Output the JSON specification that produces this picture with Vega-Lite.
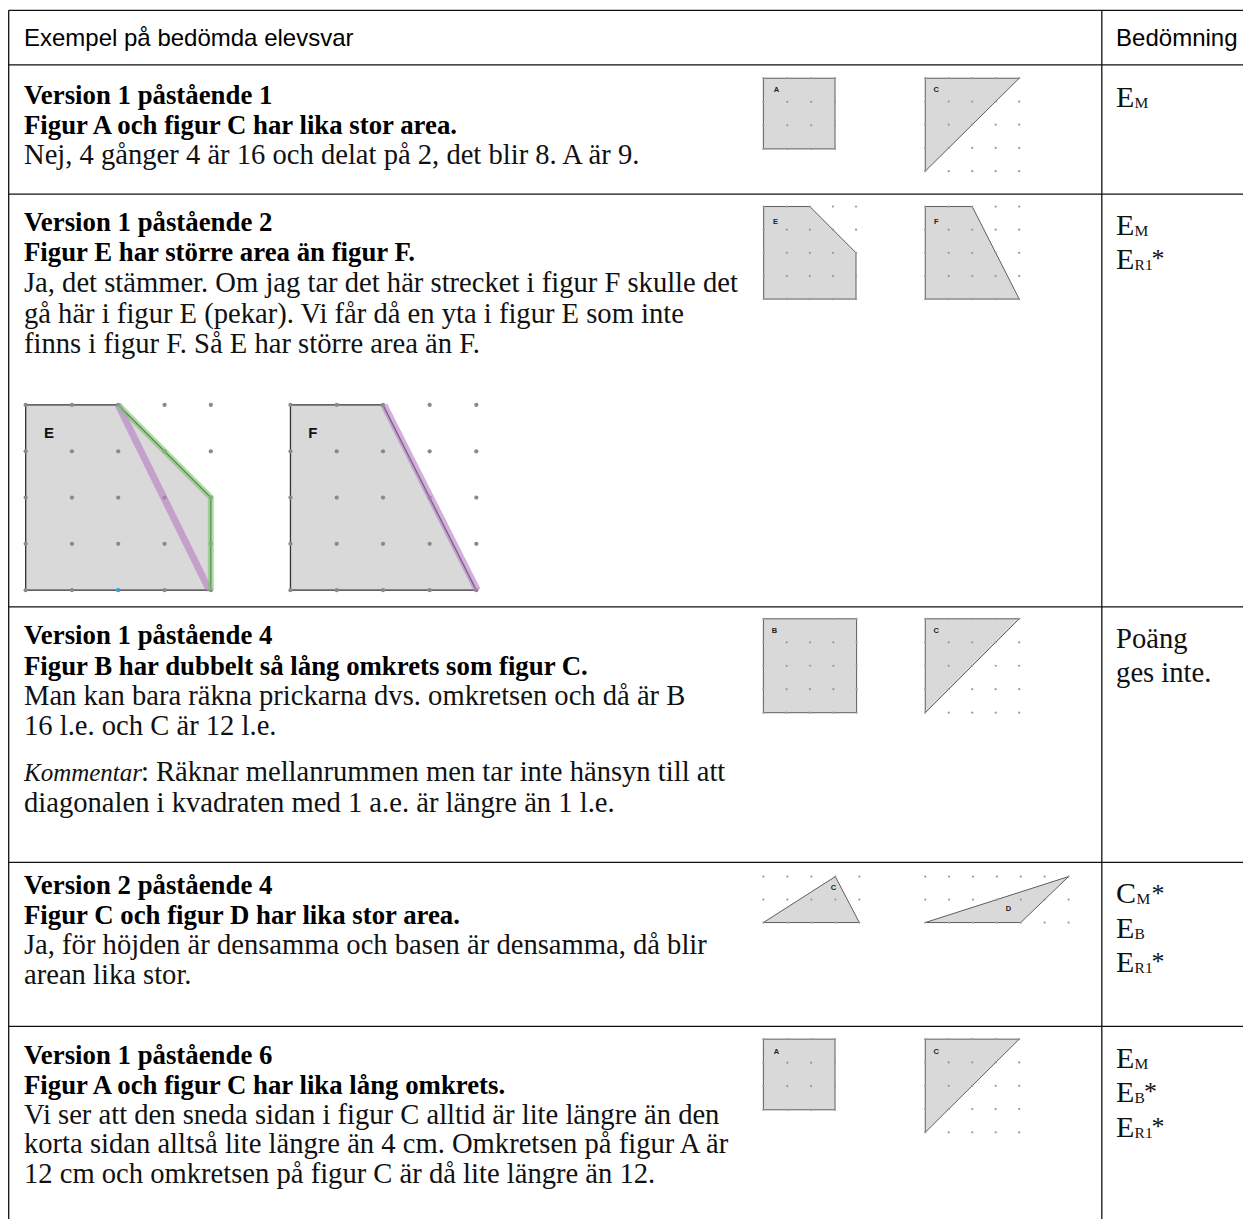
{
  "$schema": "https://vega.github.io/schema/vega-lite/v6.json",
  "width": 1244,
  "height": 1220,
  "autosize": {"type": "fit", "contains": "padding"},
  "padding": 0,
  "background": "white",
  "config": {"view": {"stroke": null}},
  "datasets": {
    "rules": [
      {"x": 8.7, "x2": 1244, "y": 10.3, "y2": 10.3},
      {"x": 8.7, "x2": 1244, "y": 65, "y2": 65},
      {"x": 8.7, "x2": 1244, "y": 194.3, "y2": 194.3},
      {"x": 8.7, "x2": 1244, "y": 607.3, "y2": 607.3},
      {"x": 8.7, "x2": 1244, "y": 863, "y2": 863},
      {"x": 8.7, "x2": 1244, "y": 1027.3, "y2": 1027.3},
      {"x": 8.7, "x2": 8.7, "y": 10.3, "y2": 1220},
      {"x": 1102.7, "x2": 1102.7, "y": 10.3, "y2": 1220}
    ],
    "polys": [
      {"id": "r1A", "k": "s", "o": 1, "x": 764, "y": 78.3}, {"id": "r1A", "k": "s", "o": 2, "x": 835.7, "y": 78.3}, {"id": "r1A", "k": "s", "o": 3, "x": 835.7, "y": 149}, {"id": "r1A", "k": "s", "o": 4, "x": 764, "y": 149},
      {"id": "r1C", "k": "s", "o": 1, "x": 926, "y": 78.3}, {"id": "r1C", "k": "s", "o": 2, "x": 1020, "y": 78.3}, {"id": "r1C", "k": "s", "o": 3, "x": 926, "y": 171.3},
      {"id": "r2E", "k": "s", "o": 1, "x": 764.3, "y": 206.7}, {"id": "r2E", "k": "s", "o": 2, "x": 810.5, "y": 206.7}, {"id": "r2E", "k": "s", "o": 3, "x": 856.7, "y": 253}, {"id": "r2E", "k": "s", "o": 4, "x": 856.7, "y": 299.3}, {"id": "r2E", "k": "s", "o": 5, "x": 764.3, "y": 299.3},
      {"id": "r2F", "k": "s", "o": 1, "x": 926, "y": 206.7}, {"id": "r2F", "k": "s", "o": 2, "x": 973, "y": 206.7}, {"id": "r2F", "k": "s", "o": 3, "x": 1020, "y": 299.3}, {"id": "r2F", "k": "s", "o": 4, "x": 926, "y": 299.3},
      {"id": "r3B", "k": "s", "o": 1, "x": 764, "y": 619.3}, {"id": "r3B", "k": "s", "o": 2, "x": 857.3, "y": 619.3}, {"id": "r3B", "k": "s", "o": 3, "x": 857.3, "y": 713.3}, {"id": "r3B", "k": "s", "o": 4, "x": 764, "y": 713.3},
      {"id": "r3C", "k": "s", "o": 1, "x": 926, "y": 619.3}, {"id": "r3C", "k": "s", "o": 2, "x": 1020, "y": 619.3}, {"id": "r3C", "k": "s", "o": 3, "x": 926, "y": 713.3},
      {"id": "r4C", "k": "s", "o": 1, "x": 764, "y": 923.3}, {"id": "r4C", "k": "s", "o": 2, "x": 836, "y": 877.3}, {"id": "r4C", "k": "s", "o": 3, "x": 860, "y": 923.3},
      {"id": "r4D", "k": "s", "o": 1, "x": 926, "y": 923.3}, {"id": "r4D", "k": "s", "o": 2, "x": 1069.4, "y": 877.3}, {"id": "r4D", "k": "s", "o": 3, "x": 1021.6, "y": 923.3},
      {"id": "r5A", "k": "s", "o": 1, "x": 764, "y": 1040}, {"id": "r5A", "k": "s", "o": 2, "x": 835.7, "y": 1040}, {"id": "r5A", "k": "s", "o": 3, "x": 835.7, "y": 1110.7}, {"id": "r5A", "k": "s", "o": 4, "x": 764, "y": 1110.7},
      {"id": "r5C", "k": "s", "o": 1, "x": 926, "y": 1040}, {"id": "r5C", "k": "s", "o": 2, "x": 1020, "y": 1040}, {"id": "r5C", "k": "s", "o": 3, "x": 926, "y": 1133.3},
      {"id": "bE", "k": "b", "o": 1, "x": 25.7, "y": 405.3}, {"id": "bE", "k": "b", "o": 2, "x": 118.3, "y": 405.3}, {"id": "bE", "k": "b", "o": 3, "x": 211, "y": 498}, {"id": "bE", "k": "b", "o": 4, "x": 211, "y": 590.7}, {"id": "bE", "k": "b", "o": 5, "x": 25.7, "y": 590.7},
      {"id": "bF", "k": "b", "o": 1, "x": 290.7, "y": 405.3}, {"id": "bF", "k": "b", "o": 2, "x": 383.3, "y": 405.3}, {"id": "bF", "k": "b", "o": 3, "x": 476.7, "y": 590.7}, {"id": "bF", "k": "b", "o": 4, "x": 290.7, "y": 590.7}
    ],
    "bands": [
      {"id": "pE", "c": "p", "o": 1, "x": 118.3, "y": 405.3}, {"id": "pE", "c": "p", "o": 2, "x": 209.5, "y": 590.7},
      {"id": "pF", "c": "p", "o": 1, "x": 384.3, "y": 405.3}, {"id": "pF", "c": "p", "o": 2, "x": 477.7, "y": 590.7},
      {"id": "gE", "c": "g", "o": 1, "x": 118.3, "y": 405.3}, {"id": "gE", "c": "g", "o": 2, "x": 211, "y": 498}, {"id": "gE", "c": "g", "o": 3, "x": 211, "y": 590.7}
    ],
    "dots": [
      {"f": "s", "x": 764, "y": 78.3}, {"f": "s", "x": 787.9, "y": 78.3}, {"f": "s", "x": 811.8, "y": 78.3}, {"f": "s", "x": 835.7, "y": 78.3},
      {"f": "s", "x": 764, "y": 101.9}, {"f": "s", "x": 787.9, "y": 101.9}, {"f": "s", "x": 811.8, "y": 101.9}, {"f": "s", "x": 835.7, "y": 101.9},
      {"f": "s", "x": 764, "y": 125.4}, {"f": "s", "x": 787.9, "y": 125.4}, {"f": "s", "x": 811.8, "y": 125.4}, {"f": "s", "x": 835.7, "y": 125.4},
      {"f": "s", "x": 764, "y": 149}, {"f": "s", "x": 787.9, "y": 149}, {"f": "s", "x": 811.8, "y": 149}, {"f": "s", "x": 835.7, "y": 149},

      {"f": "s", "x": 926, "y": 78.3}, {"f": "s", "x": 949.5, "y": 78.3}, {"f": "s", "x": 973, "y": 78.3}, {"f": "s", "x": 996.5, "y": 78.3}, {"f": "s", "x": 1020, "y": 78.3},
      {"f": "s", "x": 926, "y": 101.6}, {"f": "s", "x": 949.5, "y": 101.6}, {"f": "s", "x": 973, "y": 101.6}, {"f": "s", "x": 996.5, "y": 101.6}, {"f": "s", "x": 1020, "y": 101.6},
      {"f": "s", "x": 926, "y": 124.8}, {"f": "s", "x": 949.5, "y": 124.8}, {"f": "s", "x": 973, "y": 124.8}, {"f": "s", "x": 996.5, "y": 124.8}, {"f": "s", "x": 1020, "y": 124.8},
      {"f": "s", "x": 926, "y": 148.1}, {"f": "s", "x": 949.5, "y": 148.1}, {"f": "s", "x": 973, "y": 148.1}, {"f": "s", "x": 996.5, "y": 148.1}, {"f": "s", "x": 1020, "y": 148.1},
      {"f": "s", "x": 926, "y": 171.3}, {"f": "s", "x": 949.5, "y": 171.3}, {"f": "s", "x": 973, "y": 171.3}, {"f": "s", "x": 996.5, "y": 171.3}, {"f": "s", "x": 1020, "y": 171.3},

      {"f": "s", "x": 764.3, "y": 206.7}, {"f": "s", "x": 787.4, "y": 206.7}, {"f": "s", "x": 810.5, "y": 206.7}, {"f": "s", "x": 833.6, "y": 206.7}, {"f": "s", "x": 856.7, "y": 206.7},
      {"f": "s", "x": 764.3, "y": 229.9}, {"f": "s", "x": 787.4, "y": 229.9}, {"f": "s", "x": 810.5, "y": 229.9}, {"f": "s", "x": 833.6, "y": 229.9}, {"f": "s", "x": 856.7, "y": 229.9},
      {"f": "s", "x": 764.3, "y": 253}, {"f": "s", "x": 787.4, "y": 253}, {"f": "s", "x": 810.5, "y": 253}, {"f": "s", "x": 833.6, "y": 253}, {"f": "s", "x": 856.7, "y": 253},
      {"f": "s", "x": 764.3, "y": 276.2}, {"f": "s", "x": 787.4, "y": 276.2}, {"f": "s", "x": 810.5, "y": 276.2}, {"f": "s", "x": 833.6, "y": 276.2}, {"f": "s", "x": 856.7, "y": 276.2},
      {"f": "s", "x": 764.3, "y": 299.3}, {"f": "s", "x": 787.4, "y": 299.3}, {"f": "s", "x": 810.5, "y": 299.3}, {"f": "s", "x": 833.6, "y": 299.3}, {"f": "s", "x": 856.7, "y": 299.3},

      {"f": "s", "x": 926, "y": 206.7}, {"f": "s", "x": 949.5, "y": 206.7}, {"f": "s", "x": 973, "y": 206.7}, {"f": "s", "x": 996.5, "y": 206.7}, {"f": "s", "x": 1020, "y": 206.7},
      {"f": "s", "x": 926, "y": 229.9}, {"f": "s", "x": 949.5, "y": 229.9}, {"f": "s", "x": 973, "y": 229.9}, {"f": "s", "x": 996.5, "y": 229.9}, {"f": "s", "x": 1020, "y": 229.9},
      {"f": "s", "x": 926, "y": 253}, {"f": "s", "x": 949.5, "y": 253}, {"f": "s", "x": 973, "y": 253}, {"f": "s", "x": 996.5, "y": 253}, {"f": "s", "x": 1020, "y": 253},
      {"f": "s", "x": 926, "y": 276.2}, {"f": "s", "x": 949.5, "y": 276.2}, {"f": "s", "x": 973, "y": 276.2}, {"f": "s", "x": 996.5, "y": 276.2}, {"f": "s", "x": 1020, "y": 276.2},
      {"f": "s", "x": 926, "y": 299.3}, {"f": "s", "x": 949.5, "y": 299.3}, {"f": "s", "x": 973, "y": 299.3}, {"f": "s", "x": 996.5, "y": 299.3}, {"f": "s", "x": 1020, "y": 299.3},

      {"f": "s", "x": 764, "y": 619.3}, {"f": "s", "x": 787.3, "y": 619.3}, {"f": "s", "x": 810.7, "y": 619.3}, {"f": "s", "x": 834, "y": 619.3}, {"f": "s", "x": 857.3, "y": 619.3},
      {"f": "s", "x": 764, "y": 642.8}, {"f": "s", "x": 787.3, "y": 642.8}, {"f": "s", "x": 810.7, "y": 642.8}, {"f": "s", "x": 834, "y": 642.8}, {"f": "s", "x": 857.3, "y": 642.8},
      {"f": "s", "x": 764, "y": 666.3}, {"f": "s", "x": 787.3, "y": 666.3}, {"f": "s", "x": 810.7, "y": 666.3}, {"f": "s", "x": 834, "y": 666.3}, {"f": "s", "x": 857.3, "y": 666.3},
      {"f": "s", "x": 764, "y": 689.8}, {"f": "s", "x": 787.3, "y": 689.8}, {"f": "s", "x": 810.7, "y": 689.8}, {"f": "s", "x": 834, "y": 689.8}, {"f": "s", "x": 857.3, "y": 689.8},
      {"f": "s", "x": 764, "y": 713.3}, {"f": "s", "x": 787.3, "y": 713.3}, {"f": "s", "x": 810.7, "y": 713.3}, {"f": "s", "x": 834, "y": 713.3}, {"f": "s", "x": 857.3, "y": 713.3},

      {"f": "s", "x": 926, "y": 619.3}, {"f": "s", "x": 949.5, "y": 619.3}, {"f": "s", "x": 973, "y": 619.3}, {"f": "s", "x": 996.5, "y": 619.3}, {"f": "s", "x": 1020, "y": 619.3},
      {"f": "s", "x": 926, "y": 642.8}, {"f": "s", "x": 949.5, "y": 642.8}, {"f": "s", "x": 973, "y": 642.8}, {"f": "s", "x": 996.5, "y": 642.8}, {"f": "s", "x": 1020, "y": 642.8},
      {"f": "s", "x": 926, "y": 666.3}, {"f": "s", "x": 949.5, "y": 666.3}, {"f": "s", "x": 973, "y": 666.3}, {"f": "s", "x": 996.5, "y": 666.3}, {"f": "s", "x": 1020, "y": 666.3},
      {"f": "s", "x": 926, "y": 689.8}, {"f": "s", "x": 949.5, "y": 689.8}, {"f": "s", "x": 973, "y": 689.8}, {"f": "s", "x": 996.5, "y": 689.8}, {"f": "s", "x": 1020, "y": 689.8},
      {"f": "s", "x": 926, "y": 713.3}, {"f": "s", "x": 949.5, "y": 713.3}, {"f": "s", "x": 973, "y": 713.3}, {"f": "s", "x": 996.5, "y": 713.3}, {"f": "s", "x": 1020, "y": 713.3},

      {"f": "s", "x": 764, "y": 877.3}, {"f": "s", "x": 788, "y": 877.3}, {"f": "s", "x": 812, "y": 877.3}, {"f": "s", "x": 836, "y": 877.3}, {"f": "s", "x": 860, "y": 877.3},
      {"f": "s", "x": 764, "y": 900.3}, {"f": "s", "x": 788, "y": 900.3}, {"f": "s", "x": 812, "y": 900.3}, {"f": "s", "x": 836, "y": 900.3}, {"f": "s", "x": 860, "y": 900.3},
      {"f": "s", "x": 764, "y": 923.3}, {"f": "s", "x": 788, "y": 923.3}, {"f": "s", "x": 812, "y": 923.3}, {"f": "s", "x": 836, "y": 923.3}, {"f": "s", "x": 860, "y": 923.3},

      {"f": "s", "x": 926, "y": 877.3}, {"f": "s", "x": 949.9, "y": 877.3}, {"f": "s", "x": 973.8, "y": 877.3}, {"f": "s", "x": 997.7, "y": 877.3}, {"f": "s", "x": 1021.6, "y": 877.3}, {"f": "s", "x": 1045.5, "y": 877.3}, {"f": "s", "x": 1069.4, "y": 877.3},
      {"f": "s", "x": 926, "y": 900.3}, {"f": "s", "x": 949.9, "y": 900.3}, {"f": "s", "x": 973.8, "y": 900.3}, {"f": "s", "x": 997.7, "y": 900.3}, {"f": "s", "x": 1021.6, "y": 900.3}, {"f": "s", "x": 1045.5, "y": 900.3}, {"f": "s", "x": 1069.4, "y": 900.3},
      {"f": "s", "x": 926, "y": 923.3}, {"f": "s", "x": 949.9, "y": 923.3}, {"f": "s", "x": 973.8, "y": 923.3}, {"f": "s", "x": 997.7, "y": 923.3}, {"f": "s", "x": 1021.6, "y": 923.3}, {"f": "s", "x": 1045.5, "y": 923.3}, {"f": "s", "x": 1069.4, "y": 923.3},

      {"f": "s", "x": 764, "y": 1040}, {"f": "s", "x": 787.9, "y": 1040}, {"f": "s", "x": 811.8, "y": 1040}, {"f": "s", "x": 835.7, "y": 1040},
      {"f": "s", "x": 764, "y": 1063.6}, {"f": "s", "x": 787.9, "y": 1063.6}, {"f": "s", "x": 811.8, "y": 1063.6}, {"f": "s", "x": 835.7, "y": 1063.6},
      {"f": "s", "x": 764, "y": 1087.1}, {"f": "s", "x": 787.9, "y": 1087.1}, {"f": "s", "x": 811.8, "y": 1087.1}, {"f": "s", "x": 835.7, "y": 1087.1},
      {"f": "s", "x": 764, "y": 1110.7}, {"f": "s", "x": 787.9, "y": 1110.7}, {"f": "s", "x": 811.8, "y": 1110.7}, {"f": "s", "x": 835.7, "y": 1110.7},

      {"f": "s", "x": 926, "y": 1040}, {"f": "s", "x": 949.5, "y": 1040}, {"f": "s", "x": 973, "y": 1040}, {"f": "s", "x": 996.5, "y": 1040}, {"f": "s", "x": 1020, "y": 1040},
      {"f": "s", "x": 926, "y": 1063.3}, {"f": "s", "x": 949.5, "y": 1063.3}, {"f": "s", "x": 973, "y": 1063.3}, {"f": "s", "x": 996.5, "y": 1063.3}, {"f": "s", "x": 1020, "y": 1063.3},
      {"f": "s", "x": 926, "y": 1086.7}, {"f": "s", "x": 949.5, "y": 1086.7}, {"f": "s", "x": 973, "y": 1086.7}, {"f": "s", "x": 996.5, "y": 1086.7}, {"f": "s", "x": 1020, "y": 1086.7},
      {"f": "s", "x": 926, "y": 1110}, {"f": "s", "x": 949.5, "y": 1110}, {"f": "s", "x": 973, "y": 1110}, {"f": "s", "x": 996.5, "y": 1110}, {"f": "s", "x": 1020, "y": 1110},
      {"f": "s", "x": 926, "y": 1133.3}, {"f": "s", "x": 949.5, "y": 1133.3}, {"f": "s", "x": 973, "y": 1133.3}, {"f": "s", "x": 996.5, "y": 1133.3}, {"f": "s", "x": 1020, "y": 1133.3},

      {"f": "b", "x": 25.7, "y": 405.3}, {"f": "b", "x": 72, "y": 405.3}, {"f": "b", "x": 118.3, "y": 405.3}, {"f": "b", "x": 164.7, "y": 405.3}, {"f": "b", "x": 211, "y": 405.3},
      {"f": "b", "x": 25.7, "y": 451.7}, {"f": "b", "x": 72, "y": 451.7}, {"f": "b", "x": 118.3, "y": 451.7}, {"f": "b", "x": 164.7, "y": 451.7}, {"f": "b", "x": 211, "y": 451.7},
      {"f": "b", "x": 25.7, "y": 498}, {"f": "b", "x": 72, "y": 498}, {"f": "b", "x": 118.3, "y": 498}, {"f": "b", "x": 164.7, "y": 498}, {"f": "b", "x": 211, "y": 498},
      {"f": "b", "x": 25.7, "y": 544.3}, {"f": "b", "x": 72, "y": 544.3}, {"f": "b", "x": 118.3, "y": 544.3}, {"f": "b", "x": 164.7, "y": 544.3}, {"f": "b", "x": 211, "y": 544.3},
      {"f": "b", "x": 25.7, "y": 590.7}, {"f": "b", "x": 72, "y": 590.7}, {"f": "u", "x": 118.3, "y": 590.7}, {"f": "b", "x": 164.7, "y": 590.7}, {"f": "b", "x": 211, "y": 590.7},

      {"f": "b", "x": 290.7, "y": 405.3}, {"f": "b", "x": 337, "y": 405.3}, {"f": "b", "x": 383.3, "y": 405.3}, {"f": "b", "x": 430, "y": 405.3}, {"f": "b", "x": 476.7, "y": 405.3},
      {"f": "b", "x": 290.7, "y": 451.7}, {"f": "b", "x": 337, "y": 451.7}, {"f": "b", "x": 383.3, "y": 451.7}, {"f": "b", "x": 430, "y": 451.7}, {"f": "b", "x": 476.7, "y": 451.7},
      {"f": "b", "x": 290.7, "y": 498}, {"f": "b", "x": 337, "y": 498}, {"f": "b", "x": 383.3, "y": 498}, {"f": "b", "x": 430, "y": 498}, {"f": "b", "x": 476.7, "y": 498},
      {"f": "b", "x": 290.7, "y": 544.3}, {"f": "b", "x": 337, "y": 544.3}, {"f": "b", "x": 383.3, "y": 544.3}, {"f": "b", "x": 430, "y": 544.3}, {"f": "b", "x": 476.7, "y": 544.3},
      {"f": "b", "x": 290.7, "y": 590.7}, {"f": "b", "x": 337, "y": 590.7}, {"f": "b", "x": 383.3, "y": 590.7}, {"f": "b", "x": 430, "y": 590.7}, {"f": "b", "x": 476.7, "y": 590.7}
    ],
    "texts": [
      {"r": "head", "x": 24, "y": 46, "t": "Exempel på bedömda elevsvar"},
      {"r": "head", "x": 1117, "y": 46, "t": "Bedömning"},

      {"r": "bold", "x": 24, "y": 104.5, "t": "Version 1 påstående 1"},
      {"r": "bold", "x": 24, "y": 134.5, "t": "Figur A och figur C har lika stor area."},
      {"r": "reg", "x": 24, "y": 164.5, "t": "Nej, 4 gånger 4 är 16 och delat på 2, det blir 8. A är 9."},

      {"r": "bold", "x": 24, "y": 231, "t": "Version 1 påstående 2"},
      {"r": "bold", "x": 24, "y": 261.7, "t": "Figur E har större area än figur F."},
      {"r": "reg", "x": 24, "y": 292.4, "t": "Ja, det stämmer. Om jag tar det här strecket i figur F skulle det"},
      {"r": "reg", "x": 24, "y": 323, "t": "gå här i figur E (pekar). Vi får då en yta i figur E som inte"},
      {"r": "reg", "x": 24, "y": 353.7, "t": "finns i figur F. Så E har större area än F."},

      {"r": "bold", "x": 24, "y": 645, "t": "Version 1 påstående 4"},
      {"r": "bold", "x": 24, "y": 675.5, "t": "Figur B har dubbelt så lång omkrets som figur C."},
      {"r": "reg", "x": 24, "y": 706, "t": "Man kan bara räkna prickarna dvs. omkretsen och då är B"},
      {"r": "reg", "x": 24, "y": 736, "t": "16 l.e. och C är 12 l.e."},
      {"r": "ital", "x": 24, "y": 782, "t": "Kommentar"},
      {"r": "reg", "x": 141, "y": 782, "t": ": Räknar mellanrummen men tar inte hänsyn till att"},
      {"r": "reg", "x": 24, "y": 813, "t": "diagonalen i kvadraten med 1 a.e. är längre än 1 l.e."},

      {"r": "bold", "x": 24, "y": 895, "t": "Version 2 påstående 4"},
      {"r": "bold", "x": 24, "y": 925, "t": "Figur C och figur D har lika stor area."},
      {"r": "reg", "x": 24, "y": 955, "t": "Ja, för höjden är densamma och basen är densamma, då blir"},
      {"r": "reg", "x": 24, "y": 985, "t": "arean lika stor."},

      {"r": "bold", "x": 24, "y": 1064.5, "t": "Version 1 påstående 6"},
      {"r": "bold", "x": 24, "y": 1094.5, "t": "Figur A och figur C har lika lång omkrets."},
      {"r": "reg", "x": 24, "y": 1124.5, "t": "Vi ser att den sneda sidan i figur C alltid är lite längre än den"},
      {"r": "reg", "x": 24, "y": 1154, "t": "korta sidan alltså lite längre än 4 cm. Omkretsen på figur A är"},
      {"r": "reg", "x": 24, "y": 1183.5, "t": "12 cm och omkretsen på figur C är då lite längre än 12."},

      {"r": "rbig", "x": 1117, "y": 107.5, "t": "E"}, {"r": "rsub", "x": 1135.5, "y": 108.5, "t": "M"},
      {"r": "rbig", "x": 1117, "y": 235.5, "t": "E"}, {"r": "rsub", "x": 1135.5, "y": 236.5, "t": "M"},
      {"r": "rbig", "x": 1117, "y": 269, "t": "E"}, {"r": "rsub", "x": 1135.5, "y": 270, "t": "R1"}, {"r": "rstar", "x": 1152.5, "y": 267.5, "t": "*"},
      {"r": "reg", "x": 1117, "y": 649, "t": "Poäng"},
      {"r": "reg", "x": 1117, "y": 683, "t": "ges inte."},
      {"r": "rbig", "x": 1117, "y": 904, "t": "C"}, {"r": "rsub", "x": 1137.5, "y": 905, "t": "M"}, {"r": "rstar", "x": 1152.5, "y": 902.5, "t": "*"},
      {"r": "rbig", "x": 1117, "y": 939, "t": "E"}, {"r": "rsub", "x": 1135.5, "y": 940, "t": "B"},
      {"r": "rbig", "x": 1117, "y": 972.5, "t": "E"}, {"r": "rsub", "x": 1135.5, "y": 973.5, "t": "R1"}, {"r": "rstar", "x": 1152.5, "y": 971, "t": "*"},
      {"r": "rbig", "x": 1117, "y": 1069, "t": "E"}, {"r": "rsub", "x": 1135.5, "y": 1070, "t": "M"},
      {"r": "rbig", "x": 1117, "y": 1102.5, "t": "E"}, {"r": "rsub", "x": 1135.5, "y": 1103.5, "t": "B"}, {"r": "rstar", "x": 1145, "y": 1101, "t": "*"},
      {"r": "rbig", "x": 1117, "y": 1137.5, "t": "E"}, {"r": "rsub", "x": 1135.5, "y": 1138.5, "t": "R1"}, {"r": "rstar", "x": 1152.5, "y": 1136, "t": "*"},

      {"r": "labs", "x": 777, "y": 90.5, "t": "A"},
      {"r": "labs", "x": 937, "y": 90.5, "t": "C"},
      {"r": "labs", "x": 776, "y": 221.7, "t": "E"},
      {"r": "labs", "x": 937, "y": 221.7, "t": "F"},
      {"r": "labs", "x": 775, "y": 631.7, "t": "B"},
      {"r": "labs", "x": 937, "y": 631.7, "t": "C"},
      {"r": "labs", "x": 834, "y": 889, "t": "C"},
      {"r": "labs", "x": 1009.3, "y": 910, "t": "D"},
      {"r": "labs", "x": 777, "y": 1052.5, "t": "A"},
      {"r": "labs", "x": 937, "y": 1052.5, "t": "C"},
      {"r": "labb", "x": 49, "y": 433.3, "t": "E"},
      {"r": "labb", "x": 313, "y": 433.3, "t": "F"}
    ]
  },
  "encoding": {
    "x": {"field": "x", "type": "quantitative", "scale": {"domain": [0, 1244], "nice": false, "zero": false}, "axis": null},
    "y": {"field": "y", "type": "quantitative", "scale": {"domain": [0, 1220], "nice": false, "zero": false, "reverse": true}, "axis": null}
  },
  "layer": [
    {
      "data": {"name": "polys"},
      "transform": [{"filter": "datum.k == 's'"}],
      "mark": {"type": "line", "interpolate": "linear-closed", "fill": "#d9d9d9", "stroke": "#5e5e5e", "strokeWidth": 1},
      "encoding": {"order": {"field": "o", "type": "quantitative"}, "detail": {"field": "id", "type": "nominal"}}
    },
    {
      "data": {"name": "polys"},
      "transform": [{"filter": "datum.k == 'b'"}],
      "mark": {"type": "line", "interpolate": "linear-closed", "fill": "#d9d9d9", "stroke": "#333333", "strokeWidth": 1.3},
      "encoding": {"order": {"field": "o", "type": "quantitative"}, "detail": {"field": "id", "type": "nominal"}}
    },
    {
      "data": {"name": "dots"},
      "transform": [{"filter": "datum.f == 's'"}],
      "mark": {"type": "circle", "size": 5, "color": "#9a9a9a", "opacity": 1}
    },
    {
      "data": {"name": "dots"},
      "transform": [{"filter": "datum.f == 'b'"}],
      "mark": {"type": "circle", "size": 18, "color": "#8a8a8a", "opacity": 1}
    },
    {
      "data": {"name": "dots"},
      "transform": [{"filter": "datum.f == 'u'"}],
      "mark": {"type": "circle", "size": 18, "color": "#3a9bd5", "opacity": 1}
    },
    {
      "data": {"name": "bands"},
      "transform": [{"filter": "datum.c == 'p'"}],
      "mark": {"type": "line", "stroke": "#b57cc4", "strokeWidth": 7, "strokeOpacity": 0.6, "strokeCap": "butt"},
      "encoding": {"order": {"field": "o", "type": "quantitative"}, "detail": {"field": "id", "type": "nominal"}}
    },
    {
      "data": {"name": "bands"},
      "transform": [{"filter": "datum.c == 'g'"}],
      "mark": {"type": "line", "stroke": "#7cc46e", "strokeWidth": 6, "strokeOpacity": 0.6, "strokeCap": "butt", "strokeJoin": "miter"},
      "encoding": {"order": {"field": "o", "type": "quantitative"}, "detail": {"field": "id", "type": "nominal"}}
    },
    {
      "data": {"name": "rules"},
      "mark": {"type": "rule", "stroke": "#111111", "strokeWidth": 1.3},
      "encoding": {"x2": {"field": "x2"}, "y2": {"field": "y2"}}
    },
    {
      "data": {"name": "texts"},
      "transform": [{"filter": "datum.r == 'head'"}],
      "mark": {"type": "text", "font": "Liberation Sans", "fontSize": 24, "align": "left", "baseline": "alphabetic", "color": "#000000"},
      "encoding": {"text": {"field": "t"}}
    },
    {
      "data": {"name": "texts"},
      "transform": [{"filter": "datum.r == 'bold'"}],
      "mark": {"type": "text", "font": "Liberation Serif", "fontSize": 26.8, "fontWeight": "bold", "align": "left", "baseline": "alphabetic", "color": "#000000"},
      "encoding": {"text": {"field": "t"}}
    },
    {
      "data": {"name": "texts"},
      "transform": [{"filter": "datum.r == 'reg'"}],
      "mark": {"type": "text", "font": "Liberation Serif", "fontSize": 28.6, "align": "left", "baseline": "alphabetic", "color": "#111111"},
      "encoding": {"text": {"field": "t"}}
    },
    {
      "data": {"name": "texts"},
      "transform": [{"filter": "datum.r == 'ital'"}],
      "mark": {"type": "text", "font": "Liberation Serif", "fontSize": 25, "fontStyle": "italic", "align": "left", "baseline": "alphabetic", "color": "#111111"},
      "encoding": {"text": {"field": "t"}}
    },
    {
      "data": {"name": "texts"},
      "transform": [{"filter": "datum.r == 'rbig'"}],
      "mark": {"type": "text", "font": "Liberation Serif", "fontSize": 30, "align": "left", "baseline": "alphabetic", "color": "#111111"},
      "encoding": {"text": {"field": "t"}}
    },
    {
      "data": {"name": "texts"},
      "transform": [{"filter": "datum.r == 'rsub'"}],
      "mark": {"type": "text", "font": "Liberation Serif", "fontSize": 15.5, "align": "left", "baseline": "alphabetic", "color": "#111111"},
      "encoding": {"text": {"field": "t"}}
    },
    {
      "data": {"name": "texts"},
      "transform": [{"filter": "datum.r == 'rstar'"}],
      "mark": {"type": "text", "font": "Liberation Serif", "fontSize": 26, "align": "left", "baseline": "alphabetic", "color": "#111111"},
      "encoding": {"text": {"field": "t"}}
    },
    {
      "data": {"name": "texts"},
      "transform": [{"filter": "datum.r == 'labs'"}],
      "mark": {"type": "text", "font": "Liberation Sans", "fontSize": 7.5, "fontWeight": "bold", "align": "center", "baseline": "middle", "color": "#222222"},
      "encoding": {"text": {"field": "t"}}
    },
    {
      "data": {"name": "texts"},
      "transform": [{"filter": "datum.r == 'labb'"}],
      "mark": {"type": "text", "font": "Liberation Sans", "fontSize": 15, "fontWeight": "bold", "align": "center", "baseline": "middle", "color": "#111111"},
      "encoding": {"text": {"field": "t"}}
    }
  ]
}
